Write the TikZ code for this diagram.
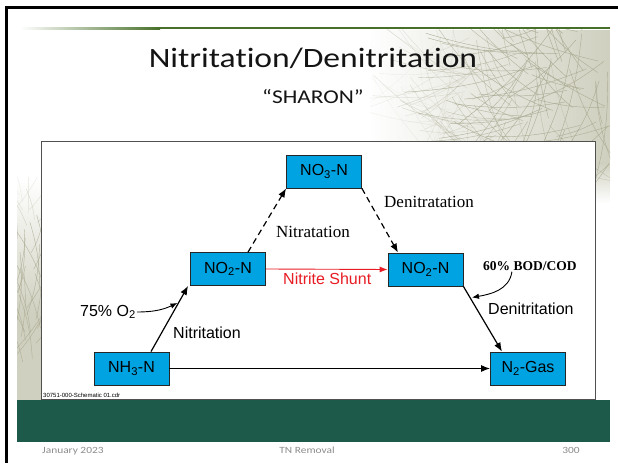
\documentclass[tikz,border=0pt]{standalone}
\usepackage{fontspec}
\setmainfont{Liberation Sans}
\newfontfamily\seriffont{Liberation Serif}
\newfontfamily\slidefont[Ligatures=NoCommon, FakeStretch=1.2]{Carlito}
\usetikzlibrary{arrows.meta,fadings,calc}

\definecolor{boxblue}{RGB}{0,163,226}
\definecolor{shuntred}{RGB}{232,28,36}
\definecolor{bandgreen}{RGB}{30,90,74}
\definecolor{rulegreen}{RGB}{72,112,42}
\definecolor{texbase}{RGB}{208,208,192}
\definecolor{texline}{RGB}{168,168,144}
\definecolor{footgray}{RGB}{140,140,140}
\definecolor{framegray}{RGB}{80,80,80}

\tikzfading[name=fadeleft, left color=transparent!100, right color=transparent!0]
\tikzfading[name=fadedown, top color=transparent!0, bottom color=transparent!100]

\tikzset{
  species/.style={draw=black!85, line width=0.8pt, fill=boxblue,
    minimum width=75pt, minimum height=33pt, inner sep=0pt,
    font=\fontsize{16}{19}\selectfont},
  flow/.style={line width=1.2pt, -{Latex[length=9pt,width=7pt]}},
  flowdash/.style={flow, dash pattern=on 6pt off 4pt},
  shunt/.style={shuntred, line width=0.9pt, -{Latex[length=8pt,width=6pt]}},
  feed/.style={line width=0.9pt, -{Latex[length=7pt,width=5.5pt]}},
  snslabel/.style={font=\fontsize{16}{19}\selectfont, inner sep=1pt, anchor=west},
  serlabel/.style={font=\seriffont\fontsize{17}{20}\selectfont, inner sep=1pt, anchor=west},
  footer/.style={font=\slidefont\fontsize{9.5}{12}\selectfont, text=footgray, inner sep=0pt, anchor=base},
  needle/.style={texline, line width=0.45pt}
}

\begin{document}
\begin{tikzpicture}[x=1pt,y=1pt]
\useasboundingbox (0,0) rectangle (618,463);
\fill[white] (0,0) rectangle (618,463);

% pine-needle texture, upper right
\begin{scope}
  \clip (370,260) rectangle (610,433);
  \fill[texbase, path fading=fadeleft] (370,300) rectangle (610,433);
  \fill[texbase, path fading=fadedown] (470,260) rectangle (610,300.5);
  \pgfmathsetseed{11}
  \foreach \k in {1,...,230}{
    \pgfmathsetmacro{\sx}{390+225*rnd}
    \pgfmathsetmacro{\sy}{255+185*rnd}
    \pgfmathsetmacro{\ang}{95+170*rnd}
    \pgfmathsetmacro{\len}{40+100*rnd}
    \pgfmathsetmacro{\op}{max(0,min(1,(\sx-430)/110))*max(0,min(1,(\sy-255)/50))*0.85}
    \draw[needle, opacity=\op] (\sx,\sy) to[bend left=8] ++(\ang:\len);
  }
\end{scope}

% pine-needle texture, left strip
\begin{scope}
  \clip (17,63) rectangle (41,285);
  \shade[top color=white, bottom color=texbase] (17,150) rectangle (41,285);
  \fill[texbase] (17,63) rectangle (41,150.5);
  \pgfmathsetseed{5}
  \foreach \k in {1,...,45}{
    \pgfmathsetmacro{\sx}{10+40*rnd}
    \pgfmathsetmacro{\sy}{60+210*rnd}
    \pgfmathsetmacro{\ang}{50+80*rnd}
    \pgfmathsetmacro{\len}{30+50*rnd}
    \pgfmathsetmacro{\op}{max(0,min(1,(285-\sy)/90))*0.75}
    \draw[needle, opacity=\op] (\sx,\sy) to[bend right=8] ++(\ang:\len);
  }
\end{scope}

% slide frame lines
\fill[black] (5,0) rectangle (8,457);
\fill[black] (5,454) rectangle (618,457);

% green rule under the title area
\shade[left color=white, right color=rulegreen] (20,433.5) rectangle (160,435.5);
\fill[rulegreen] (160,433.5) rectangle (610,435.5);

% title
\node[font=\slidefont\fontsize{28}{32}\selectfont, text={rgb,255:red,20;green,20;blue,20}, anchor=base, inner sep=0pt]
  (title) at (313,395) {Nitritation/Denitritation};
\node[font=\slidefont\fontsize{19.5}{22}\selectfont, text={rgb,255:red,20;green,20;blue,20}, anchor=base, inner sep=0pt]
  (subtitle) at (313,359) {“SHARON”};

% footer band and footer texts
\fill[bandgreen] (17,21) rectangle (610,63);
\node[footer, anchor=base west] (date) at (42,9.5) {January 2023};
\node[footer] (topic) at (307,9.5) {TN Removal};
\node[footer] (page) at (571,9.5) {300};

% diagram panel
\draw[framegray, line width=0.8pt, fill=white] (41,64) rectangle (595,322);
\node[font=\fontsize{6}{7}\selectfont, anchor=west, inner sep=0pt] (srcfile) at (43,68) {30751-000-Schematic 01.cdr};

% species boxes
\node[species] (no3)  at (324,291.5) {NO\textsubscript{3}-N};
\node[species] (no2l) at (228,194)   {NO\textsubscript{2}-N};
\node[species] (no2r) at (425.5,193.5) {NO\textsubscript{2}-N};
\node[species] (nh3)  at (131.5,94.5) {NH\textsubscript{3}-N};
\node[species] (n2)   at (528,94.5)  {N\textsubscript{2}-Gas};

% reaction pathways
\draw[flow] ([xshift=19.5pt]nh3.north) -- coordinate[pos=0.74] (o2hit) ([xshift=-2pt]no2l.south west);
\draw[flowdash] ([xshift=20pt]no2l.north) -- (no3.south west);
\draw[flowdash] (no3.south east) -- ([xshift=-27.5pt]no2r.north);
\draw[shunt] (no2l.east) -- (no2r.west);
\draw[flow] (no2r.south east) -- coordinate[pos=0.17] (bodhit) ([xshift=-26pt]n2.north);
\draw[flow] (nh3.east) -- (n2.west);

% pathway labels
\node[serlabel] (lnitrat) at (275,231) {Nitratation};
\node[serlabel] (ldenitrat) at (383,261) {Denitratation};
\node[snslabel, text=shuntred] (lshunt) at (282,184) {Nitrite Shunt};
\node[snslabel] (lnitrit) at (172,130) {Nitritation};
\node[snslabel] (ldenitrit) at (487,154) {Denitritation};

% oxygen and carbon demands
\node[snslabel] (o2) at (79,151) {75\% O\textsubscript{2}};
\node[font=\seriffont\bfseries\fontsize{13.5}{16}\selectfont, inner sep=1pt, anchor=west] (bod) at (482,197) {60\% BOD/COD};
\draw[feed] (o2.east) to[out=0,in=205] ([xshift=-1pt]o2hit);
\draw[feed] ([xshift=-18pt]bod.south) to[out=262,in=10] ([xshift=2pt]bodhit);

\end{tikzpicture}
\end{document}
